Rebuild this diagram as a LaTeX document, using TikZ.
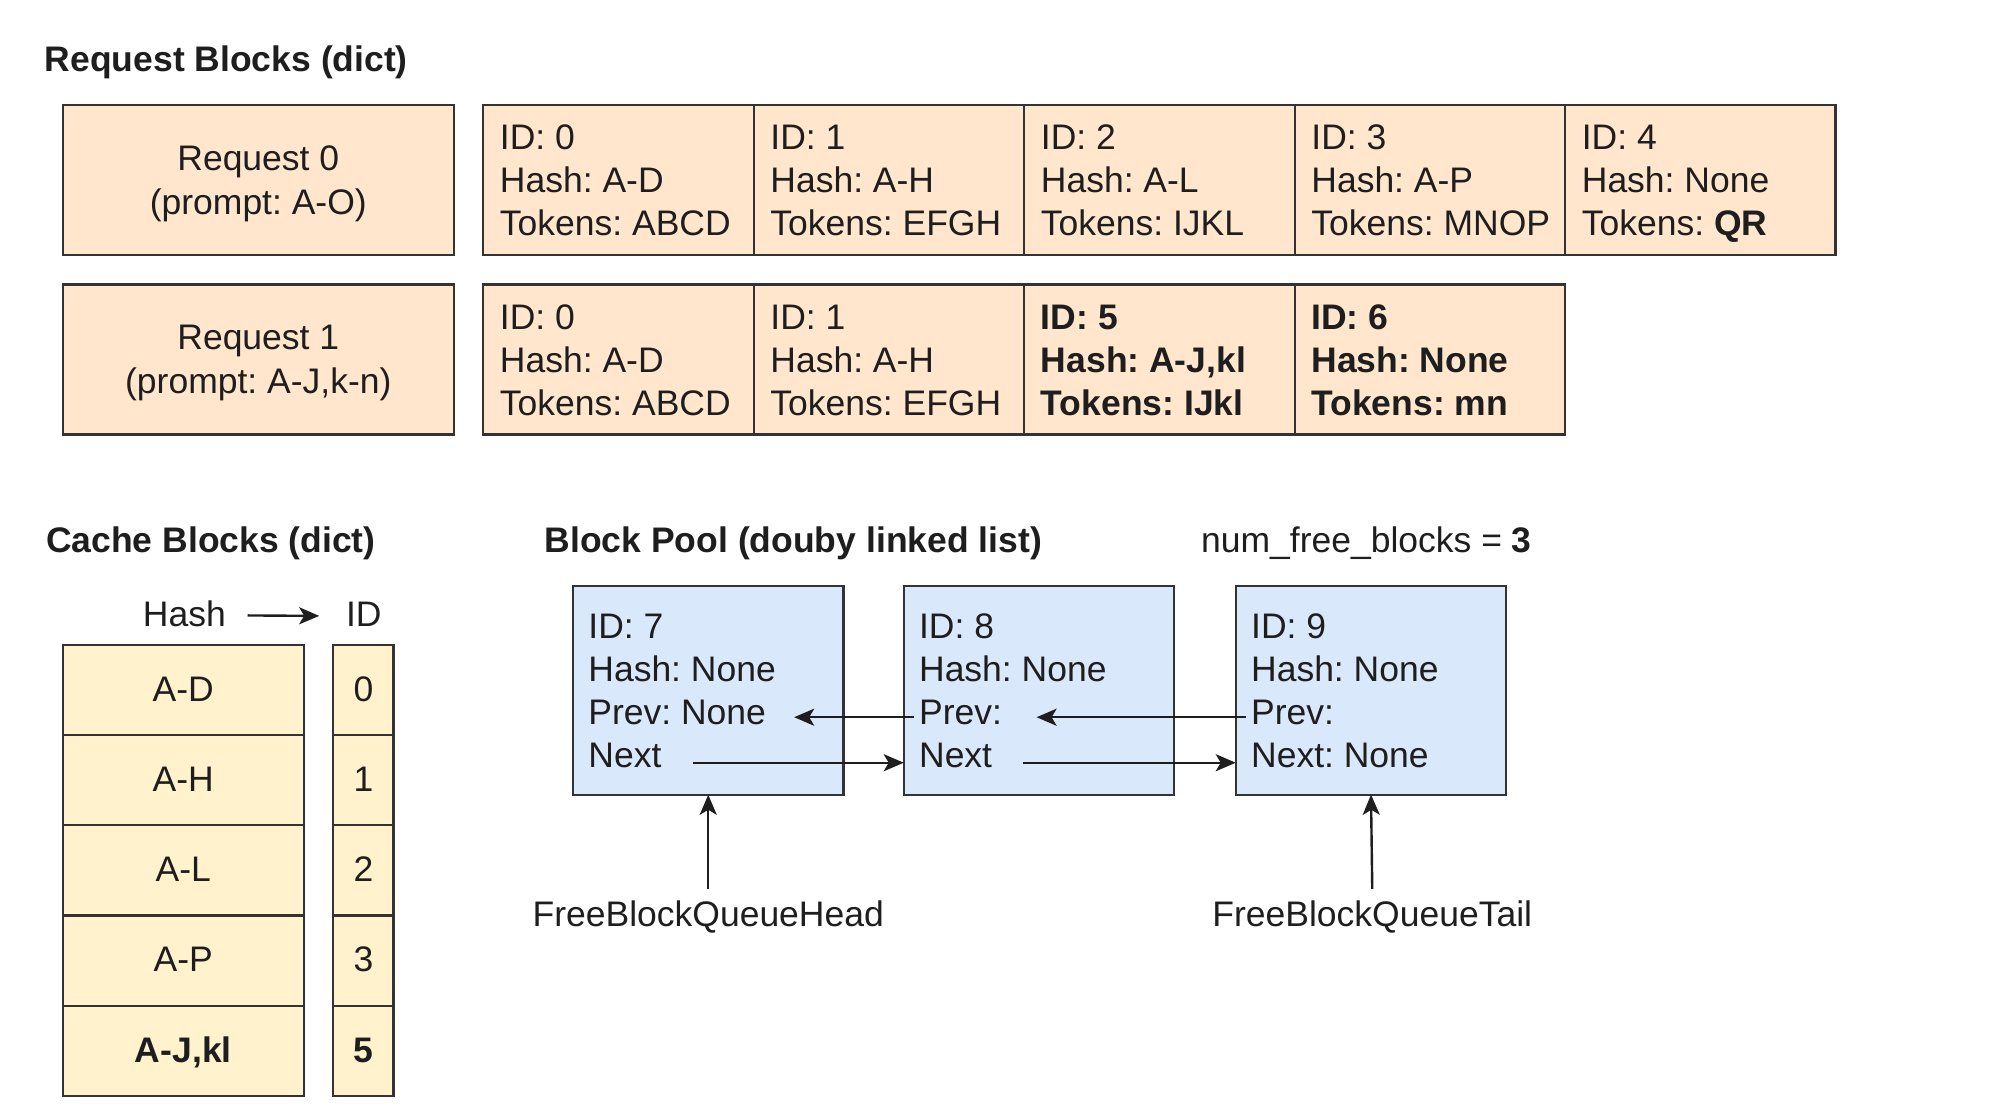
\documentclass[tikz,border=0pt]{standalone}
\usepackage{fontspec}
\setmainfont{Liberation Sans}
\frenchspacing
\usetikzlibrary{calc,arrows.meta}
\definecolor{peach}{HTML}{FFE6CC}
\definecolor{cream}{HTML}{FFF2CC}
\definecolor{lblue}{HTML}{DAE8FC}
\definecolor{edgec}{HTML}{333333}
\definecolor{ink}{HTML}{1E1E1E}
\newcommand\blkcell[6]{%
  \node[rcell] (#1) at (#2,#3) {};
  \node[lbl] (#1a) at ($(#1.north west)+(13,35)$) {#4};
  \node[lbl] (#1b) at ($(#1.north west)+(13,68.5)$) {#5};
  \node[lbl] (#1c) at ($(#1.north west)+(13,102)$) {#6};}
\newcommand\poolcell[6]{%
  \node[pcell] (#1) at (#2,457) {};
  \node[lbl] (#1a) at ($(#1.north west)+(12,41)$) {#3};
  \node[lbl] (#1b) at ($(#1.north west)+(12,74.5)$) {#4};
  \node[lbl] (#1c) at ($(#1.north west)+(12,108.5)$) {#5};
  \node[lbl] (#1d) at ($(#1.north west)+(12,141.5)$) {#6};}
\newcommand\cacherow[4]{%
  \node[hcell] (h#1) at (49,#2) {};
  \node[icell] (i#1) at (260,#2) {};
  \node[ctr] (ht#1) at ($(h#1.north)+(0,44)$) {#3};
  \node[ctr] (it#1) at ($(i#1.north)+(0,44)$) {#4};}
\begin{document}
\begin{tikzpicture}[x=1.2819pt,y=-1.2819pt,
  every node/.style={inner sep=0pt,outer sep=0pt},
  lbl/.style={font=\fontsize{35.5}{42}\selectfont,text=ink,anchor=base west},
  ctr/.style={font=\fontsize{35.5}{42}\selectfont,text=ink,anchor=base},
  ttl/.style={font=\fontsize{35.5}{42}\selectfont\bfseries,text=ink,anchor=base west},
  boxbase/.style={draw=edgec,line width=2.4pt,rectangle,anchor=north west},
  rcell/.style={boxbase,fill=peach,minimum width=211*1.2819pt,minimum height=117*1.2819pt},
  rreq/.style={boxbase,fill=peach,minimum width=305*1.2819pt,minimum height=117*1.2819pt},
  pcell/.style={boxbase,fill=lblue,minimum width=211*1.2819pt,minimum height=163*1.2819pt},
  hcell/.style={boxbase,fill=cream,minimum width=188*1.2819pt,minimum height=70.4*1.2819pt},
  icell/.style={boxbase,fill=cream,minimum width=47*1.2819pt,minimum height=70.4*1.2819pt},
  arr/.style={draw=ink,line width=2.4pt,-{Stealth[length=20pt,width=17pt,inset=5pt]}},
]
\useasboundingbox[fill=white] (0,0) rectangle (1568,864.3);

% ---- Request blocks ----
\node[ttl] (t1) at (35,56) {Request Blocks (dict)};

\node[rreq] (req0) at (49,82) {};
\node[ctr] (req0a) at ($(req0.north)+(0,51)$) {Request 0};
\node[ctr] (req0b) at ($(req0.north)+(0,85)$) {(prompt: A-O)};
\blkcell{a0}{377}{82}{ID: 0}{Hash: A-D}{Tokens: ABCD}
\blkcell{a1}{588}{82}{ID: 1}{Hash: A-H}{Tokens: EFGH}
\blkcell{a2}{799}{82}{ID: 2}{Hash: A-L}{Tokens: IJKL}
\blkcell{a3}{1010}{82}{ID: 3}{Hash: A-P}{Tokens: MNOP}
\blkcell{a4}{1221}{82}{ID: 4}{Hash: None}{Tokens: \textbf{QR}}

\node[rreq] (req1) at (49,222) {};
\node[ctr] (req1a) at ($(req1.north)+(0,51)$) {Request 1};
\node[ctr] (req1b) at ($(req1.north)+(0,85)$) {(prompt: A-J,k-n)};
\blkcell{b0}{377}{222}{ID: 0}{Hash: A-D}{Tokens: ABCD}
\blkcell{b1}{588}{222}{ID: 1}{Hash: A-H}{Tokens: EFGH}
\blkcell{b2}{799}{222}{\textbf{ID: 5}}{\textbf{Hash: A-J,kl}}{\textbf{Tokens: IJkl}}
\blkcell{b3}{1010}{222}{\textbf{ID: 6}}{\textbf{Hash: None}}{\textbf{Tokens: mn}}

% ---- Cache blocks ----
\node[ttl] (t2) at (36,431) {Cache Blocks (dict)};
\node[lbl] (hashhdr) at (111.5,489) {Hash};
\node[lbl] (idhdr) at (270,489) {ID};
\draw[arr] ($(hashhdr.east)+(17,1)$) -- ($(idhdr.west)+(-21,1)$);
\cacherow{0}{503}{A-D}{0}
\cacherow{1}{573.4}{A-H}{1}
\cacherow{2}{643.8}{A-L}{2}
\cacherow{3}{714.2}{A-P}{3}
\cacherow{4}{784.6}{\textbf{A-J,kl}}{\textbf{5}}

% ---- Block pool ----
\node[ttl] (t3) at (425,431) {Block Pool (douby linked list)};
\node[lbl] (nfb) at (937,431) {num\_free\_blocks = \textbf{3}};
\poolcell{p7}{447}{ID: 7}{Hash: None}{Prev: None}{Next}
\poolcell{p8}{705}{ID: 8}{Hash: None}{Prev:}{Next}
\poolcell{p9}{964}{ID: 9}{Hash: None}{Prev:}{Next: None}

\draw[arr] ($(p8c.base west)+(-4,-6)$) -- ($(p7c.base east)+(22,-6)$);
\draw[arr] ($(p9c.base west)+(-4,-6)$) -- ($(p8c.base east)+(27,-6)$);
\draw[arr] ($(p7d.base east)+(25,-3.5)$) -- ($(p8.west |- p7d.base)+(0,-3.5)$);
\draw[arr] ($(p8d.base east)+(24,-3.5)$) -- ($(p9.west |- p8d.base)+(0,-3.5)$);

\node[ctr] (head) at (552.5,722.5) {FreeBlockQueueHead};
\node[ctr] (tail) at (1070.5,722.5) {FreeBlockQueueTail};
\draw[arr] ($(head.north)+(0,-9)$) -- (p7.south);
\draw[arr] ($(tail.north)+(0,-9)$) -- (p9.south);
\end{tikzpicture}
\end{document}
